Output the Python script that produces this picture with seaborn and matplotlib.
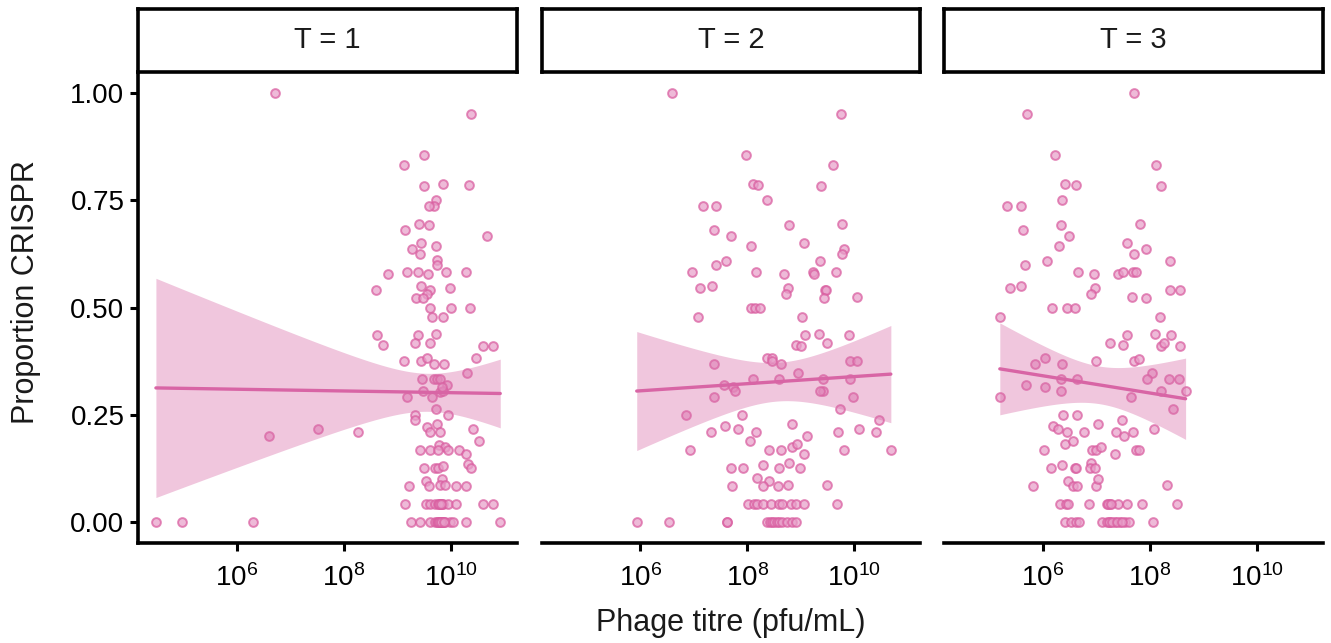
import numpy as np
import pandas as pd
import matplotlib.pyplot as plt
import seaborn as sns

sns.set_style("ticks")
plt.rcParams['font.family'] = ['Liberation Sans', 'DejaVu Sans']
plt.rcParams['mathtext.default'] = 'regular'

# log10 phage titre (pfu/mL) and proportion CRISPR
t1_log_titre = [6.71, 10.38, 9.51, 9.13, 9.51, 9.85, 10.34, 9.72, 9.68, 9.60,
                9.41, 9.59, 9.15, 10.68, 9.44, 9.73, 9.27, 9.43, 9.74, 9.74,
                8.82, 9.18, 9.38, 9.58, 9.91, 10.29, 9.44, 9.61, 9.99, 8.60,
                9.55, 9.36, 9.49, 9.62, 10.01, 10.36, 9.65, 9.86, 8.62, 9.38,
                9.72, 8.74, 9.33, 9.61, 10.61, 10.79, 9.13, 9.44, 9.55, 9.69,
                9.88, 10.47, 10.30, 9.47, 9.69, 9.74, 9.80, 9.94, 9.18, 9.49,
                9.65, 9.80, 9.86, 9.83, 9.72, 9.96, 9.33, 9.33, 6.59, 7.51,
                8.27, 9.55, 9.75, 9.62, 9.80, 10.42, 10.53, 9.79, 9.90, 9.96,
                9.43, 9.62, 9.77, 10.16, 10.29, 10.32, 10.39, 9.50, 9.71, 9.77,
                9.85, 9.54, 9.83, 9.60, 9.80, 9.90, 9.23, 10.11, 10.29,
                9.15, 9.54, 9.61, 9.71, 9.76, 9.80, 9.83, 9.86, 9.96, 10.11, 10.61, 10.79,
                9.78, 9.82,
                4.48, 4.96, 6.29, 9.26, 9.43, 9.61, 9.71, 9.75, 9.77, 9.80,
                9.83, 9.86, 9.90, 9.99, 10.05, 10.28, 10.93, 9.79, 9.82, 9.88]
t1_prop = [1.000, 0.952, 0.857, 0.833, 0.783, 0.789, 0.786, 0.750, 0.738, 0.737,
           0.695, 0.692, 0.681, 0.667, 0.650, 0.643, 0.636, 0.625, 0.610, 0.600,
           0.579, 0.583, 0.583, 0.579, 0.583, 0.583, 0.550, 0.542, 0.546, 0.541,
           0.532, 0.522, 0.523, 0.500, 0.500, 0.500, 0.477, 0.477, 0.436, 0.436,
           0.438, 0.412, 0.417, 0.417, 0.410, 0.410, 0.375, 0.375, 0.382, 0.368,
           0.368, 0.382, 0.348, 0.333, 0.333, 0.333, 0.332, 0.319, 0.291, 0.305,
           0.291, 0.302, 0.306, 0.314, 0.262, 0.250, 0.250, 0.238, 0.199, 0.217,
           0.209, 0.220, 0.227, 0.209, 0.209, 0.217, 0.188, 0.179, 0.174, 0.168,
           0.167, 0.167, 0.167, 0.167, 0.158, 0.135, 0.125, 0.125, 0.125, 0.125,
           0.129, 0.094, 0.100, 0.084, 0.086, 0.086, 0.084, 0.084, 0.084,
           0.042, 0.042, 0.042, 0.042, 0.042, 0.042, 0.042, 0.042, 0.042, 0.042, 0.042, 0.042,
           0.042, 0.042,
           0, 0, 0, 0, 0, 0, 0, 0, 0, 0,
           0, 0, 0, 0, 0, 0, 0, 0, 0, 0]

t2_log_titre = [6.60, 9.75, 7.98, 9.61, 8.10, 8.21, 9.38, 8.37, 7.18, 7.41,
                7.37, 8.79, 9.78, 7.69, 8.07, 9.06, 9.81, 9.78, 7.42, 7.61,
                9.37, 6.96, 8.17, 8.69, 9.23, 9.26, 9.67, 7.11, 7.34, 8.76,
                8.73, 9.45, 9.47, 9.43, 10.06, 8.07, 8.15, 8.23, 7.08, 9.03,
                9.08, 9.34, 9.91, 8.92, 9.00, 9.50, 7.37, 8.37, 8.47, 8.47,
                8.64, 9.93, 10.06, 8.96, 8.10, 8.60, 9.41, 9.93, 7.57, 7.73,
                7.77, 9.41, 9.37, 7.37, 9.99, 6.85, 7.90, 9.73, 10.46, 7.59,
                7.82, 7.32, 8.17, 8.83, 9.70, 10.09, 10.42, 9.12, 8.05, 6.93,
                8.40, 8.64, 8.83, 8.93, 9.06, 9.81, 10.69, 7.69, 7.93, 8.30,
                8.60, 8.79, 8.99, 8.18, 8.40, 8.29, 8.57, 8.77, 7.71, 9.49,
                8.02, 8.12, 8.18, 8.29, 8.45, 8.60, 8.65, 8.82, 8.92, 9.07, 9.69,
                5.93, 6.54, 7.62, 7.63, 8.37, 8.42, 8.46, 8.50, 8.55, 8.60,
                8.65, 8.74, 8.83, 8.92]
t2_prop = [1.000, 0.952, 0.857, 0.833, 0.789, 0.786, 0.783, 0.750, 0.737, 0.738,
           0.681, 0.692, 0.696, 0.667, 0.643, 0.650, 0.637, 0.625, 0.600, 0.608,
           0.609, 0.583, 0.583, 0.579, 0.583, 0.579, 0.583, 0.545, 0.550, 0.546,
           0.532, 0.542, 0.542, 0.522, 0.524, 0.500, 0.500, 0.500, 0.477, 0.477,
           0.436, 0.438, 0.436, 0.412, 0.410, 0.417, 0.368, 0.382, 0.382, 0.375,
           0.368, 0.375, 0.375, 0.348, 0.333, 0.333, 0.333, 0.333, 0.319, 0.314,
           0.305, 0.304, 0.305, 0.291, 0.291, 0.250, 0.250, 0.262, 0.238, 0.223,
           0.217, 0.209, 0.209, 0.227, 0.209, 0.217, 0.209, 0.199, 0.188, 0.167,
           0.167, 0.167, 0.174, 0.181, 0.158, 0.167, 0.167, 0.125, 0.125, 0.131,
           0.125, 0.136, 0.125, 0.101, 0.094, 0.084, 0.084, 0.086, 0.084, 0.086,
           0.042, 0.042, 0.042, 0.042, 0.042, 0.042, 0.042, 0.042, 0.042, 0.042, 0.042,
           0, 0, 0, 0, 0, 0, 0, 0, 0, 0,
           0, 0, 0, 0]

t3_log_titre = [7.71, 5.70, 6.22, 8.11, 6.42, 6.62, 8.21, 6.36, 5.33, 5.58,
                5.63, 6.34, 7.82, 6.49, 6.29, 7.58, 7.92, 7.71, 5.66, 6.08,
                8.37, 6.65, 6.96, 7.41, 7.50, 7.69, 7.75, 5.38, 5.59, 6.97,
                6.89, 8.37, 8.57, 7.67, 7.92, 6.16, 6.44, 6.59, 5.19, 8.19,
                7.57, 8.10, 8.39, 7.26, 7.50, 8.21, 8.27, 8.57, 5.84, 6.03,
                6.36, 6.99, 7.71, 7.79, 8.04, 6.33, 6.63, 7.95, 8.35, 8.55,
                5.68, 6.03, 6.33, 8.21, 8.67, 5.20, 7.64, 8.43, 6.37, 6.63,
                7.48, 6.19, 6.28, 6.44, 6.76, 7.03, 7.36, 7.51, 7.69, 8.07,
                6.41, 6.56, 6.02, 6.91, 6.99, 7.08, 7.34, 7.75, 7.80, 6.14,
                6.35, 6.59, 6.62, 6.89, 6.88, 6.97, 6.46, 6.56, 6.64, 5.81,
                6.99, 7.03, 8.33,
                6.31, 6.43, 6.47, 6.86, 7.19, 7.25, 7.41, 7.58, 7.86, 8.51,
                7.21, 7.27,
                6.41, 6.53, 6.61, 6.68, 7.11, 7.19, 7.26, 7.34, 7.44, 7.53,
                7.61, 8.05, 7.23, 7.30, 7.38, 7.48]
t3_prop = [1.000, 0.952, 0.857, 0.833, 0.789, 0.786, 0.783, 0.750, 0.737, 0.738,
           0.681, 0.692, 0.696, 0.667, 0.643, 0.650, 0.636, 0.625, 0.600, 0.608,
           0.609, 0.583, 0.579, 0.579, 0.583, 0.583, 0.583, 0.545, 0.550, 0.545,
           0.532, 0.542, 0.542, 0.524, 0.522, 0.500, 0.500, 0.500, 0.477, 0.477,
           0.436, 0.438, 0.436, 0.417, 0.412, 0.410, 0.417, 0.410, 0.368, 0.382,
           0.368, 0.375, 0.375, 0.380, 0.348, 0.333, 0.333, 0.333, 0.333, 0.333,
           0.319, 0.314, 0.305, 0.305, 0.304, 0.291, 0.291, 0.262, 0.250, 0.250,
           0.238, 0.223, 0.217, 0.209, 0.209, 0.227, 0.209, 0.199, 0.209, 0.217,
           0.181, 0.188, 0.167, 0.167, 0.167, 0.174, 0.158, 0.167, 0.167, 0.125,
           0.131, 0.125, 0.125, 0.136, 0.125, 0.125, 0.094, 0.084, 0.084, 0.084,
           0.084, 0.100, 0.086,
           0.042, 0.042, 0.042, 0.042, 0.042, 0.042, 0.042, 0.042, 0.042, 0.042,
           0.042, 0.042,
           0, 0, 0, 0, 0, 0, 0, 0, 0, 0,
           0, 0, 0, 0, 0, 0]

panel_names = ['T = 1', 'T = 2', 'T = 3']
x_ticks = [6, 8, 10]
x_tick_labels = ['$10^{6}$', '$10^{8}$', '$10^{10}$']
y_ticks = [0, 0.25, 0.5, 0.75, 1.0]
y_tick_labels = ['0.00', '0.25', '0.50', '0.75', '1.00']

df = pd.concat([
    pd.DataFrame({'T': 'T = 1', 'log_titre': t1_log_titre, 'prop': t1_prop}),
    pd.DataFrame({'T': 'T = 2', 'log_titre': t2_log_titre, 'prop': t2_prop}),
    pd.DataFrame({'T': 'T = 3', 'log_titre': t3_log_titre, 'prop': t3_prop}),
])

pink = '#d865a5'

W, H = 1331, 643
fig = plt.figure(figsize=(W / 100, H / 100), dpi=100)
lefts = [138.3, 541.7, 944.3]
pw = 378.5
top, bottom, strip_top = 72, 543, 9

for i, name in enumerate(panel_names):
    sub = df[df['T'] == name]
    ax = fig.add_axes([lefts[i] / W, 1 - bottom / H, pw / W, (bottom - top) / H])
    sns.regplot(data=sub, x='log_titre', y='prop', ax=ax, ci=None,
                color=pink,
                scatter_kws=dict(s=40, facecolor='#e8a0ca', edgecolor='#d95c9f',
                                 linewidths=1.4, alpha=0.72),
                line_kws=dict(lw=2.4, color=pink, zorder=3))

    # 95% confidence band of the linear fit (as geom_smooth(method = "lm"))
    x = sub['log_titre'].to_numpy()
    y = sub['prop'].to_numpy()
    n = len(x)
    b, a = np.polyfit(x, y, 1)
    resid = y - (a + b * x)
    s = np.sqrt(np.sum(resid ** 2) / (n - 2))
    grid = np.linspace(x.min(), x.max(), 100)
    se = s * np.sqrt(1 / n + (grid - x.mean()) ** 2 / np.sum((x - x.mean()) ** 2))
    fit = a + b * grid
    ax.fill_between(grid, fit - 1.98 * se, fit + 1.98 * se, color='#d86aa6',
                    alpha=0.38, lw=0, zorder=2)

    ax.set_xlim(4.15, 11.24)
    ax.set_ylim(-0.05, 1.05)
    ax.set_xlabel('')
    ax.set_ylabel('')
    ax.set_xticks(x_ticks)
    ax.set_xticklabels(x_tick_labels)
    ax.set_yticks(y_ticks)
    ax.set_yticklabels(y_tick_labels)
    ax.tick_params(direction='out', length=6, width=2.2, labelsize=20,
                   colors='black', pad=4)
    ax.tick_params(axis='x', pad=9)
    for side in ['top', 'right']:
        ax.spines[side].set_visible(False)
    ax.spines['bottom'].set_linewidth(2.6)
    ax.spines['left'].set_linewidth(2.6)
    ax.spines['bottom'].set_color('black')
    ax.spines['left'].set_color('black')
    if i > 0:
        ax.spines['left'].set_visible(False)
        ax.tick_params(axis='y', left=False, labelleft=False)

    # facet strip
    sax = fig.add_axes([lefts[i] / W, 1 - top / H, pw / W, (top - strip_top) / H])
    sax.set_xticks([])
    sax.set_yticks([])
    for sp in sax.spines.values():
        sp.set_linewidth(2.6)
        sp.set_color('black')
    sax.text(0.5, 0.5, name, ha='center', va='center', fontsize=21,
             color='#1a1a1a', transform=sax.transAxes)

fig.text(731 / W, 1 - 623 / H, 'Phage titre (pfu/mL)', ha='center', va='center',
         fontsize=22, color='#1a1a1a')
fig.text(26 / W, 1 - 292 / H, 'Proportion CRISPR', ha='center', va='center',
         rotation=90, fontsize=22, color='#1a1a1a')

fig.savefig('out.png', dpi=100)
